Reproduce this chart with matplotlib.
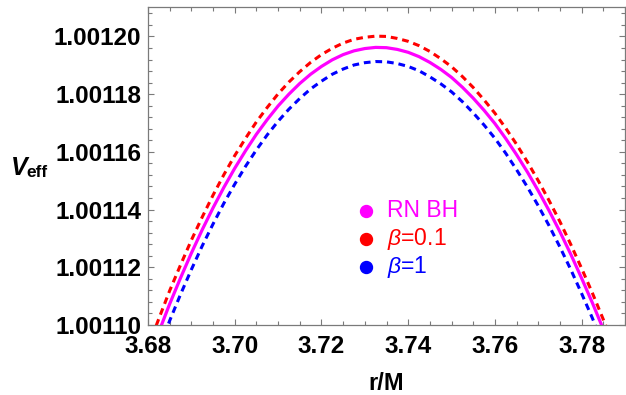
import matplotlib
matplotlib.use('Agg')
import matplotlib.pyplot as plt
from matplotlib.ticker import MultipleLocator, FormatStrFormatter

r_vals = [3.680, 3.6825, 3.685, 3.6875, 3.690, 3.6925, 3.695, 3.6975, 3.700, 3.7025, 3.705, 3.7075,
          3.710, 3.7125, 3.715, 3.7175, 3.720, 3.7225, 3.725, 3.7275, 3.730, 3.7325, 3.735, 3.7375,
          3.740, 3.7425, 3.745, 3.7475, 3.750, 3.7525, 3.755, 3.7575, 3.760, 3.7625, 3.765, 3.7675,
          3.770, 3.7725, 3.775, 3.7775, 3.780, 3.7825, 3.785, 3.7875, 3.790]
v_rn = [1.0010876, 1.0010976, 1.0011073, 1.0011163, 1.0011249, 1.0011330, 1.0011406, 1.0011477,
        1.0011543, 1.0011604, 1.0011661, 1.0011712, 1.0011759, 1.0011800, 1.0011837, 1.0011869,
        1.0011896, 1.0011919, 1.0011937, 1.0011950, 1.0011958, 1.0011962, 1.0011961, 1.0011955,
        1.0011945, 1.0011930, 1.0011910, 1.0011886, 1.0011858, 1.0011824, 1.0011786, 1.0011744,
        1.0011698, 1.0011646, 1.0011590, 1.0011530, 1.0011465, 1.0011396, 1.0011323, 1.0011245,
        1.0011162, 1.0011076, 1.0010985, 1.0010890, 1.0010791]
v_beta01 = [1.0010923, 1.0011022, 1.0011119, 1.0011208, 1.0011294, 1.0011374, 1.0011450, 1.0011521,
            1.0011587, 1.0011647, 1.0011704, 1.0011754, 1.0011801, 1.0011842, 1.0011878, 1.0011910,
            1.0011937, 1.0011959, 1.0011977, 1.0011990, 1.0011997, 1.0012001, 1.0012000, 1.0011993,
            1.0011983, 1.0011968, 1.0011948, 1.0011923, 1.0011895, 1.0011861, 1.0011823, 1.0011780,
            1.0011734, 1.0011682, 1.0011626, 1.0011565, 1.0011500, 1.0011431, 1.0011358, 1.0011279,
            1.0011196, 1.0011110, 1.0011019, 1.0010923, 1.0010824]
v_beta1 = [1.0010817, 1.0010918, 1.0011015, 1.0011106, 1.0011192, 1.0011274, 1.0011350, 1.0011422,
           1.0011488, 1.0011550, 1.0011607, 1.0011659, 1.0011706, 1.0011748, 1.0011785, 1.0011818,
           1.0011845, 1.0011869, 1.0011887, 1.0011901, 1.0011909, 1.0011913, 1.0011912, 1.0011906,
           1.0011896, 1.0011881, 1.0011860, 1.0011836, 1.0011808, 1.0011774, 1.0011735, 1.0011693,
           1.0011647, 1.0011595, 1.0011538, 1.0011478, 1.0011413, 1.0011344, 1.0011270, 1.0011192,
           1.0011109, 1.0011023, 1.0010931, 1.0010836, 1.0010737]

labels = ['RN BH', r'$\beta$=0.1', r'$\beta$=1']
colors = ['#ff00ff', '#ff0000', '#0000ff']

plt.rcParams['font.family'] = ['Liberation Sans', 'DejaVu Sans']
plt.rcParams['mathtext.fontset'] = 'custom'
plt.rcParams['mathtext.rm'] = 'Liberation Sans'
plt.rcParams['mathtext.it'] = 'Liberation Sans:italic'
plt.rcParams['mathtext.bf'] = 'Liberation Sans:bold'

fig = plt.figure(figsize=(6.26, 3.95), dpi=100)
ax = fig.add_axes([148 / 626, 70 / 395, 477 / 626, 318 / 395])

ax.plot(r_vals, v_rn, color=colors[0], lw=2.3)
ax.plot(r_vals, v_beta01, color=colors[1], lw=2.2, linestyle=(0, (2.2, 1.6)), dash_capstyle='butt')
ax.plot(r_vals, v_beta1, color=colors[2], lw=2.2, linestyle=(0, (2.2, 1.6)), dash_capstyle='butt')

ax.set_xlim(3.68, 3.79)
ax.set_ylim(1.00110, 1.0012102)
ax.xaxis.set_major_locator(MultipleLocator(0.02))
ax.xaxis.set_minor_locator(MultipleLocator(0.005))
ax.yaxis.set_major_locator(MultipleLocator(0.00002))
ax.yaxis.set_minor_locator(MultipleLocator(0.000004))
ax.xaxis.set_major_formatter(FormatStrFormatter('%.2f'))
ax.yaxis.set_major_formatter(FormatStrFormatter('%.5f'))

for s in ax.spines.values():
    s.set_color('#7a7a7a')
    s.set_linewidth(0.9)
ax.tick_params(which='both', direction='in', top=True, right=True, color='#7a7a7a', width=0.8)
ax.tick_params(which='major', length=4.5, labelsize=17.5, pad=5)
ax.tick_params(which='minor', length=2.6)
ax.tick_params(axis='x', which='major', pad=7)
for lab in ax.get_xticklabels() + ax.get_yticklabels():
    lab.set_fontweight('bold')

fig.text(386 / 626, 4.5 / 395, 'r/M', ha='center', va='baseline', fontsize=17, fontweight='bold')
fig.text(11 / 626, (395 - 175) / 395, 'V', ha='left', va='baseline', fontsize=18,
         fontweight='bold', fontstyle='italic')
fig.text(26 / 626, (395 - 177) / 395, 'eff', ha='left', va='baseline', fontsize=12.5, fontweight='bold')

# legend drawn by hand like the Mathematica point legend
rows_y = [0.359, 0.269, 0.183]
for lab, c, yy in zip(labels, colors, rows_y):
    ax.plot([0.456], [yy], 'o', color=c, markersize=8.6, transform=ax.transAxes, clip_on=False)
    ax.text(0.501, yy, lab, color=c, fontsize=16.5, ha='left', va='center', transform=ax.transAxes)

fig.savefig('out.png', dpi=100)
